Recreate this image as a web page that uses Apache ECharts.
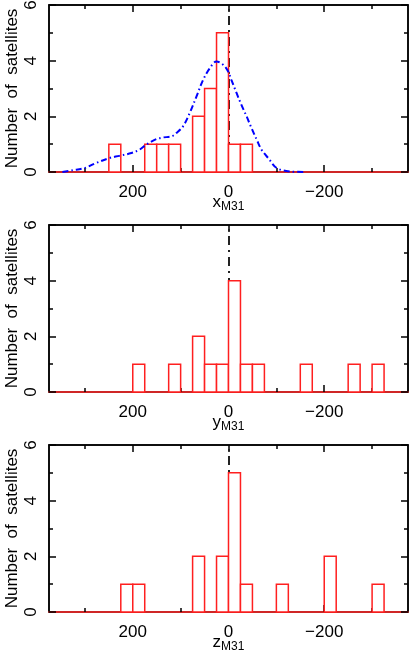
<!DOCTYPE html>
<html>
<head>
<meta charset="utf-8">
<script src="https://cdn.jsdelivr.net/npm/echarts@6/dist/echarts.min.js"></script>
<style>
  html, body { margin: 0; padding: 0; background: #fff; }
  #chart { width: 411px; height: 654px; }
</style>
</head>
<body>
<div id="chart"></div>
<script>
  // histogram bins: lower edge of each 25 kpc bin and the count in it
  const binWidth = 25
  const xBins = [225, 150, 125, 100, 50, 25, 0, -25, -50]
  const xCounts = [1, 1, 1, 1, 2, 3, 5, 1, 1]
  const yBins = [175, 100, 50, 25, 0, -25, -50, -75, -175, -275, -325]
  const yCounts = [1, 1, 2, 1, 1, 4, 1, 1, 1, 1, 1]
  const zBins = [200, 175, 50, 0, -25, -50, -125, -225, -325]
  const zCounts = [1, 1, 2, 2, 5, 1, 1, 2, 1]

  // smooth model curve on the x panel
  const curveX = [347, 326, 301, 277, 249, 228, 203, 186, 172, 151, 137, 119, 109, 95, 81, 67, 53, 39, 25, 11, 1, -6, -17, -27, -38, -48, -59, -69, -83, -101, -129, -160]
  const curveY = [0, 0.06, 0.14, 0.32, 0.5, 0.58, 0.68, 0.8, 0.98, 1.18, 1.24, 1.28, 1.4, 1.64, 2.12, 2.71, 3.31, 3.73, 3.97, 3.85, 3.62, 3.31, 2.83, 2.41, 1.99, 1.58, 1.16, 0.8, 0.5, 0.14, 0.02, 0]

  const xMajor = [-200, 0, 200]
  const xMinor = [-300, -200, -100, 0, 100, 200, 300]
  const panelNames = ['x', 'y', 'z']
  const panelBins = [xBins, yBins, zBins]
  const panelCounts = [xCounts, yCounts, zCounts]

  const red = '#ff1f1f'
  const font = 'Liberation Sans, Arial, sans-serif'
  const gridTops = [5, 225, 445]

  let grids = []
  let xAxes = []
  let yAxes = []
  let series = []

  panelNames.forEach((nm, i) => {
    grids.push({
      left: 49, width: 359, top: gridTops[i], height: 167,
      outerBoundsMode: 'none', containLabel: false,
      show: true, borderColor: '#000', borderWidth: 1.5
    })
    const base = {
      gridIndex: i, type: 'value', min: -375, max: 375, inverse: true,
      splitLine: { show: false }
    }
    // bottom: major ticks + labels
    xAxes.push(Object.assign({}, base, {
      position: 'bottom',
      name: '{m|' + nm + '}{s|M31}',
      nameLocation: 'middle',
      nameGap: 19,
      nameMoveOverlap: false,
      nameTextStyle: {
        rich: {
          m: { fontSize: 17, fontFamily: font, color: '#000' },
          s: { fontSize: 12, fontFamily: font, color: '#000', padding: [10, 0, 0, 0] }
        }
      },
      axisLine: { show: true, onZero: false, lineStyle: { color: red, width: 1.5 } },
      axisTick: { show: true, inside: true, length: 7, customValues: xMajor, lineStyle: { color: '#000', width: 1.5 } },
      axisLabel: { customValues: xMajor, margin: 12, fontSize: 17, fontFamily: font, color: '#000',
        formatter: v => v < 0 ? '\u2212' + (-v) : String(v) }
    }))
    // bottom: minor ticks
    xAxes.push(Object.assign({}, base, {
      position: 'bottom',
      axisLine: { show: false, onZero: false },
      axisTick: { show: true, inside: true, length: 4, customValues: xMinor, lineStyle: { color: '#000', width: 1.5 } },
      axisLabel: { show: false }
    }))
    // top: major and minor ticks
    xAxes.push(Object.assign({}, base, {
      position: 'top',
      axisLine: { show: true, onZero: false, lineStyle: { color: '#000', width: 1.5 } },
      axisTick: { show: true, inside: true, length: 7, customValues: xMajor, lineStyle: { color: '#000', width: 1.5 } },
      axisLabel: { show: false }
    }))
    xAxes.push(Object.assign({}, base, {
      position: 'top',
      axisLine: { show: false, onZero: false },
      axisTick: { show: true, inside: true, length: 4, customValues: xMinor, lineStyle: { color: '#000', width: 1.5 } },
      axisLabel: { show: false }
    }))

    const yBase = {
      gridIndex: i, type: 'value', min: 0, max: 6, interval: 2,
      splitLine: { show: false },
      axisLine: { show: true, onZero: false, lineStyle: { color: '#000', width: 1.5 } },
      axisTick: { show: true, inside: true, length: 7, lineStyle: { color: '#000', width: 1.5 } },
      minorTick: { show: true, splitNumber: 2, length: 4, lineStyle: { color: '#000', width: 1.5 } }
    }
    yAxes.push(Object.assign({}, yBase, {
      position: 'left',
      name: 'Number  of  satellites',
      nameLocation: 'middle',
      nameGap: 28,
      nameMoveOverlap: false,
      nameTextStyle: { fontSize: 17, fontFamily: font, color: '#000' },
      axisLabel: { rotate: 90, margin: 9, fontSize: 17, fontFamily: font, color: '#000' }
    }))
    yAxes.push(Object.assign({}, yBase, {
      position: 'right',
      axisLabel: { show: false }
    }))

    // dash-dot line at zero, sits underneath the bars
    series.push({
      type: 'line', xAxisIndex: i * 4, yAxisIndex: i * 2, data: [], z: 1,
      markLine: {
        z: 1,
        silent: true, symbol: 'none', label: { show: false },
        lineStyle: { color: '#222', width: 2, type: [9, 5, 2, 5] },
        data: [{ xAxis: 0 }]
      }
    })

    const histData = panelBins[i].map((b, k) => [b, panelCounts[i][k]])
    series.push({
      type: 'custom', xAxisIndex: i * 4, yAxisIndex: i * 2, z: 3,
      data: histData,
      encode: { x: 0, y: 1 },
      renderItem: (params, api) => {
        const lo = api.value(0)
        const p0 = api.coord([lo, 0])
        const p1 = api.coord([lo + binWidth, api.value(1)])
        return {
          type: 'rect',
          shape: { x: Math.min(p0[0], p1[0]), y: p1[1], width: Math.abs(p1[0] - p0[0]), height: p0[1] - p1[1] },
          style: { fill: '#fff', stroke: red, lineWidth: 1.5 }
        }
      }
    })
  })

  series.push({
    type: 'line', xAxisIndex: 0, yAxisIndex: 0, z: 4,
    data: curveX.map((v, k) => [v, curveY[k]]),
    smooth: 0.35, showSymbol: false,
    lineStyle: { color: '#0000ff', width: 2, type: [6, 3, 1.5, 3] }
  })

  const chartInstance = echarts.init(document.getElementById('chart'), null, { renderer: 'canvas' })
  chartInstance.setOption({
    animation: false,
    grid: grids,
    xAxis: xAxes,
    yAxis: yAxes,
    series: series
  })
</script>
</body>
</html>
